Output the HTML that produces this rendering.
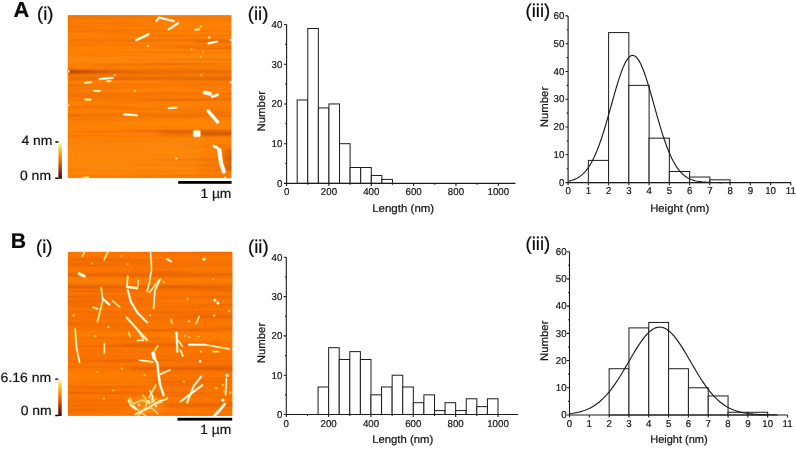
<!DOCTYPE html>
<html lang="en"><head><meta charset="utf-8"><title>AFM fibril length and height distributions</title>
<style>html,body{margin:0;padding:0;background:#fff}body{width:796px;height:449px;overflow:hidden}svg{display:block;will-change:transform}text{font-family:"Liberation Sans", sans-serif;text-rendering:geometricPrecision;stroke:#141414;stroke-width:0.22px;paint-order:stroke}</style>
</head><body>
<svg width="796" height="449" viewBox="0 0 796 449">
<defs>
<filter id="bl0" x="-5%" y="-5%" width="110%" height="110%"><feGaussianBlur stdDeviation="0.35"/></filter>
<filter id="bl1" x="-5%" y="-5%" width="110%" height="110%"><feGaussianBlur stdDeviation="4 1.1"/></filter>
<filter id="tx" x="0" y="0" width="1" height="1" color-interpolation-filters="sRGB"><feTurbulence type="fractalNoise" baseFrequency="0.007 0.27" numOctaves="2" seed="7" result="n"/><feColorMatrix in="n" type="matrix" values="0 0 0 0 0.72  0 0 0 0 0.26  0 0 0 0 0  2.6 0 0 0 -1.18" result="d"/><feColorMatrix in="n" type="matrix" values="0 0 0 0 1  0 0 0 0 0.6  0 0 0 0 0.1  0 2.0 0 0 -1.0" result="l"/><feMerge><feMergeNode in="d"/><feMergeNode in="l"/></feMerge></filter>
<filter id="tx2" x="0" y="0" width="1" height="1" color-interpolation-filters="sRGB"><feTurbulence type="fractalNoise" baseFrequency="0.007 0.27" numOctaves="2" seed="23" result="n"/><feColorMatrix in="n" type="matrix" values="0 0 0 0 0.72  0 0 0 0 0.24  0 0 0 0 0  2.6 0 0 0 -1.18" result="d"/><feColorMatrix in="n" type="matrix" values="0 0 0 0 1  0 0 0 0 0.56  0 0 0 0 0.08  0 2.0 0 0 -1.0" result="l"/><feMerge><feMergeNode in="d"/><feMergeNode in="l"/></feMerge></filter>
<filter id="bl2" x="-5%" y="-5%" width="110%" height="110%"><feGaussianBlur stdDeviation="0.7"/></filter>
<linearGradient id="cb" x1="0" y1="0" x2="0" y2="1"><stop offset="0" stop-color="#fffde0"/><stop offset="0.08" stop-color="#ffe98a"/><stop offset="0.2" stop-color="#ffc535"/><stop offset="0.38" stop-color="#f88d12"/><stop offset="0.58" stop-color="#d9600a"/><stop offset="0.78" stop-color="#8e2d08"/><stop offset="1" stop-color="#3a0a05"/></linearGradient>
<linearGradient id="fd" x1="0" y1="0" x2="1" y2="0"><stop offset="0" stop-color="#6e1c00" stop-opacity="0.95"/><stop offset="0.3" stop-color="#8a3000" stop-opacity="0.7"/><stop offset="0.6" stop-color="#b04000" stop-opacity="0.4"/><stop offset="1" stop-color="#c24a00" stop-opacity="0"/></linearGradient>
</defs>
<rect width="796" height="449" fill="#fff"/>
<g fill="#0a0a0a">
<text x="13.5" y="16.8" font-size="21.8" font-weight="bold">A</text>
<text x="10.7" y="248.2" font-size="21.2" font-weight="bold">B</text>
<g font-size="18.5">
<text x="37" y="19.9">(i)</text>
<text x="247.8" y="19.7">(ii)</text>
<text x="525.6" y="16.5">(iii)</text>
<text x="36.1" y="252.7">(i)</text>
<text x="248" y="252.6">(ii)</text>
<text x="525.6" y="249.6">(iii)</text>
</g></g>
<clipPath id="clipa"><rect x="67.6" y="15.1" width="164" height="163.2"/></clipPath>
<g clip-path="url(#clipa)">
<rect x="67.6" y="15.1" width="164" height="163.2" fill="#fe7f03"/>
<rect x="67.6" y="15.1" width="164" height="163.2" filter="url(#tx)" opacity="0.26"/>
<g filter="url(#bl1)">
<rect x="50" y="18.5" width="200" height="1.5" fill="#c24a00" opacity="0.25"/>
<rect x="50" y="39.2" width="200" height="1.6" fill="#c24a00" opacity="0.35"/>
<rect x="195" y="40.8" width="37" height="1.8" fill="#c24a00" opacity="0.45"/>
<rect x="60" y="70.6" width="84" height="2.3" fill="url(#fd)"/>
<rect x="50" y="68.5" width="200" height="11" fill="#c24a00" opacity="0.14"/>
<rect x="112" y="77.8" width="138" height="1.2" fill="#c24a00" opacity="0.35"/>
<rect x="60" y="84.6" width="24" height="1.2" fill="#c24a00" opacity="0.3"/>
<rect x="50" y="71" width="200" height="1.6" fill="#c24a00" opacity="0.35"/>
<rect x="50" y="77.5" width="200" height="1.2" fill="#c24a00" opacity="0.25"/>
<rect x="50" y="84.5" width="200" height="1.4" fill="#c24a00" opacity="0.3"/>
<rect x="50" y="93.5" width="200" height="1.6" fill="#c24a00" opacity="0.3"/>
<rect x="50" y="99" width="200" height="1.4" fill="#c24a00" opacity="0.3"/>
<rect x="50" y="108" width="200" height="1.2" fill="#c24a00" opacity="0.22"/>
<rect x="50" y="114.6" width="200" height="1.6" fill="#c24a00" opacity="0.4"/>
<rect x="160" y="130" width="90" height="5.5" fill="#c24a00" opacity="0.3"/>
<rect x="202" y="132.5" width="48" height="3" fill="#8a3000" opacity="0.3"/>
<rect x="180" y="146" width="52" height="1.5" fill="#c24a00" opacity="0.3"/>
<rect x="225" y="149" width="15" height="22" fill="#a03c00" opacity="0.42"/>
<rect x="50" y="55" width="200" height="8" fill="#ff9418" opacity="0.25"/>
<rect x="50" y="120" width="200" height="8" fill="#ff9418" opacity="0.2"/>
<rect x="40" y="140" width="160" height="34" fill="#ff9a1c" opacity="0.3"/>
</g>
<g filter="url(#bl2)" fill="none" stroke-linecap="round" stroke-linejoin="round" opacity="0.75">
<path d="M156.5 21.1L159.1 17.6L173.8 21.1" stroke="#ffb830" stroke-width="2.83"/>
<path d="M168.8 29.3L178.1 23.2" stroke="#ffb830" stroke-width="3.05"/>
<path d="M136.4 40.1L148.3 34.3" stroke="#ffb830" stroke-width="3.05"/>
<circle cx="147.8" cy="45.9" r="1.35" fill="#ffb830" stroke="none"/>
<circle cx="200.6" cy="26.5" r="1.35" fill="#ffb830" stroke="none"/>
<path d="M195.4 29.9L199 29.3" stroke="#ffb830" stroke-width="2.71"/>
<circle cx="209.2" cy="37.5" r="1.55" fill="#ffb830" stroke="none"/>
<path d="M208.3 43.3L217 41.6" stroke="#ffb830" stroke-width="2.83"/>
<circle cx="230.6" cy="40.1" r="1.45" fill="#ffb830" stroke="none"/>
<circle cx="191.5" cy="49.2" r="1.15" fill="#ffb830" stroke="none"/>
<circle cx="203.4" cy="51.5" r="1.15" fill="#ffb830" stroke="none"/>
<circle cx="200.6" cy="56.9" r="1.15" fill="#ffb830" stroke="none"/>
<circle cx="68.4" cy="71.4" r="1.55" fill="#ffb830" stroke="none"/>
<path d="M99.7 79L112.6 77.9" stroke="#ffb830" stroke-width="2.83"/>
<circle cx="114.8" cy="75.1" r="1.35" fill="#ffb830" stroke="none"/>
<path d="M107.2 81.2L110.5 81.2" stroke="#ffb830" stroke-width="2.59"/>
<path d="M85.2 82.9L91 82.2" stroke="#ffb830" stroke-width="2.71"/>
<path d="M94.3 90.9L99.7 90.9" stroke="#ffb830" stroke-width="2.71"/>
<circle cx="134.9" cy="90.9" r="1.35" fill="#ffb830" stroke="none"/>
<circle cx="201.2" cy="75.3" r="1.25" fill="#ffb830" stroke="none"/>
<path d="M204.6 92.6L210 93.8" stroke="#ffb830" stroke-width="4.55"/>
<path d="M212 96.6L217.6 94.8" stroke="#ffb830" stroke-width="3.4"/>
<circle cx="230.8" cy="82.2" r="1.45" fill="#ffb830" stroke="none"/>
<path d="M85.6 99.6L90.4 99.6" stroke="#ffb830" stroke-width="2.83"/>
<path d="M168.8 108.2L176.4 107.6" stroke="#ffb830" stroke-width="2.94"/>
<path d="M124.1 114.3L137 115.3" stroke="#ffb830" stroke-width="2.94"/>
<path d="M208.2 111L217.6 122" stroke="#ffb830" stroke-width="4.21"/>
<rect x="192.6" y="129.8" width="8.4" height="7.8" rx="2" fill="#ffb830" stroke="none"/>
<path d="M214 146.2L217.2 147.8" stroke="#ffb830" stroke-width="3.63"/>
<path d="M219.4 150L220 156L221.2 163.5L223.8 171.6" stroke="#ffb830" stroke-width="4.89"/>
<circle cx="176.4" cy="158.6" r="1.25" fill="#ffb830" stroke="none"/>
<path d="M82.4 178.6L87.8 177.6" stroke="#ffb830" stroke-width="3.17"/>
<circle cx="68.4" cy="105.4" r="1.25" fill="#ffb830" stroke="none"/>
<circle cx="225" cy="177.6" r="1.45" fill="#ffb830" stroke="none"/>
</g>
<g filter="url(#bl0)" fill="none" stroke-linecap="round" stroke-linejoin="round">
<path d="M156.5 21.1L159.1 17.6L173.8 21.1" stroke="#fff" stroke-width="1.72" opacity="1"/>
<path d="M168.8 29.3L178.1 23.2" stroke="#fff" stroke-width="1.95" opacity="1"/>
<path d="M136.4 40.1L148.3 34.3" stroke="#fff" stroke-width="1.95" opacity="1"/>
<circle cx="147.8" cy="45.9" r="0.9" fill="#ffe070" stroke="none" opacity="1"/>
<circle cx="200.6" cy="26.5" r="0.9" fill="#ffe070" stroke="none" opacity="1"/>
<path d="M195.4 29.9L199 29.3" stroke="#fff0b0" stroke-width="1.61" opacity="1"/>
<circle cx="209.2" cy="37.5" r="1.1" fill="#fff" stroke="none" opacity="1"/>
<path d="M208.3 43.3L217 41.6" stroke="#fff" stroke-width="1.72" opacity="1"/>
<circle cx="230.6" cy="40.1" r="1" fill="#fff" stroke="none" opacity="1"/>
<circle cx="191.5" cy="49.2" r="0.7" fill="#ffe070" stroke="none" opacity="1"/>
<circle cx="203.4" cy="51.5" r="0.7" fill="#ffe070" stroke="none" opacity="1"/>
<circle cx="200.6" cy="56.9" r="0.7" fill="#ffe070" stroke="none" opacity="1"/>
<circle cx="68.4" cy="71.4" r="1.1" fill="#ffe27a" stroke="none" opacity="1"/>
<path d="M99.7 79L112.6 77.9" stroke="#fff" stroke-width="1.72" opacity="1"/>
<circle cx="114.8" cy="75.1" r="0.9" fill="#ffe070" stroke="none" opacity="1"/>
<path d="M107.2 81.2L110.5 81.2" stroke="#fff0b0" stroke-width="1.49" opacity="1"/>
<path d="M85.2 82.9L91 82.2" stroke="#fff0b0" stroke-width="1.61" opacity="1"/>
<path d="M94.3 90.9L99.7 90.9" stroke="#fff0b0" stroke-width="1.61" opacity="1"/>
<circle cx="134.9" cy="90.9" r="0.9" fill="#ffe9a0" stroke="none" opacity="1"/>
<circle cx="201.2" cy="75.3" r="0.8" fill="#ffe070" stroke="none" opacity="1"/>
<path d="M204.6 92.6L210 93.8" stroke="#fff" stroke-width="3.45" opacity="1"/>
<path d="M212 96.6L217.6 94.8" stroke="#fff" stroke-width="2.3" opacity="1"/>
<circle cx="230.8" cy="82.2" r="1" fill="#fff" stroke="none" opacity="1"/>
<path d="M85.6 99.6L90.4 99.6" stroke="#fff0b0" stroke-width="1.72" opacity="1"/>
<path d="M168.8 108.2L176.4 107.6" stroke="#fff" stroke-width="1.84" opacity="1"/>
<path d="M124.1 114.3L137 115.3" stroke="#fff" stroke-width="1.84" opacity="1"/>
<path d="M208.2 111L217.6 122" stroke="#fff" stroke-width="3.1" opacity="1"/>
<rect x="193.4" y="130.6" width="6.8" height="6.2" rx="1.2" fill="#fff" stroke="none"/>
<path d="M214 146.2L217.2 147.8" stroke="#fff" stroke-width="2.53" opacity="1"/>
<path d="M219.4 150L220 156L221.2 163.5L223.8 171.6" stroke="#fff" stroke-width="3.79" opacity="1"/>
<circle cx="176.4" cy="158.6" r="0.8" fill="#ffe070" stroke="none" opacity="1"/>
<path d="M82.4 178.6L87.8 177.6" stroke="#fff" stroke-width="2.07" opacity="1"/>
<circle cx="68.4" cy="105.4" r="0.8" fill="#ffe070" stroke="none" opacity="1"/>
<circle cx="225" cy="177.6" r="1" fill="#ffe070" stroke="none" opacity="1"/>
</g></g>
<rect x="58.4" y="141.9" width="3.5" height="36.9" fill="url(#cb)"/>
<path d="M55.3 142h3.1M55.3 178.3h3.1" stroke="#000" stroke-width="1.4" fill="none"/>
<g font-size="13.4" fill="#141414">
<text x="21.4" y="145.1" textLength="31" lengthAdjust="spacingAndGlyphs">4 nm</text>
<text x="20" y="179.9" textLength="31" lengthAdjust="spacingAndGlyphs">0 nm</text>
<text x="200.4" y="197.8" textLength="31" lengthAdjust="spacingAndGlyphs">1 µm</text>
</g>
<rect x="178.2" y="181" width="53.4" height="2.8" fill="#000"/>
<clipPath id="clipb"><rect x="67.8" y="251.6" width="164.8" height="164.3"/></clipPath>
<g clip-path="url(#clipb)">
<rect x="67.8" y="251.6" width="164.8" height="164.3" fill="#fc7501"/>
<rect x="67.8" y="251.6" width="164.8" height="164.3" filter="url(#tx2)" opacity="0.26"/>
<g filter="url(#bl1)">
<rect x="50" y="262" width="200" height="1.4" fill="#c24a00" opacity="0.2"/>
<rect x="50" y="273.4" width="200" height="2.4" fill="#c24a00" opacity="0.45"/>
<rect x="50" y="286" width="200" height="2.2" fill="#c24a00" opacity="0.45"/>
<rect x="50" y="297.2" width="200" height="1.4" fill="#c24a00" opacity="0.25"/>
<rect x="50" y="306" width="200" height="1.2" fill="#c24a00" opacity="0.2"/>
<rect x="50" y="318" width="200" height="1.6" fill="#c24a00" opacity="0.25"/>
<rect x="50" y="328" width="200" height="1.4" fill="#c24a00" opacity="0.2"/>
<rect x="120" y="343" width="100" height="3" fill="#c24a00" opacity="0.3"/>
<rect x="50" y="356" width="200" height="1.4" fill="#c24a00" opacity="0.22"/>
<rect x="130" y="367" width="120" height="3.2" fill="#c24a00" opacity="0.3"/>
<ellipse cx="147" cy="405" rx="15" ry="9" fill="#ffb040" opacity="0.4"/>
<rect x="50" y="381" width="200" height="1.4" fill="#c24a00" opacity="0.22"/>
<rect x="50" y="392" width="200" height="1.6" fill="#c24a00" opacity="0.25"/>
<rect x="50" y="404" width="200" height="1.6" fill="#c24a00" opacity="0.25"/>
<rect x="50" y="278" width="200" height="6" fill="#ff9418" opacity="0.2"/>
<rect x="50" y="332" width="200" height="8" fill="#ff9418" opacity="0.2"/>
<rect x="40" y="372" width="110" height="14" fill="#ff9418" opacity="0.2"/>
</g>
<g filter="url(#bl2)" fill="none" stroke-linecap="round" stroke-linejoin="round" opacity="0.75">
<path d="M82.4 256.2L84.5 251.9" stroke="#ffb830" stroke-width="2.18"/>
<path d="M104 259.9L107.9 251.9" stroke="#ffb830" stroke-width="2.27"/>
<path d="M150.4 251.5L151.3 262L151.5 269.6L149.4 282.6L147.2 291.2" stroke="#ffb830" stroke-width="2.27"/>
<path d="M167.3 259.2L171 261.4" stroke="#ffb830" stroke-width="2.72"/>
<circle cx="204" cy="259.2" r="1.75" fill="#ffb830" stroke="none"/>
<path d="M79.2 273.6L84.2 276.2" stroke="#ffb830" stroke-width="3.62"/>
<path d="M127.7 276.1L127.1 286.9" stroke="#ffb830" stroke-width="2.36"/>
<path d="M127.1 287L136.4 288" stroke="#ffb830" stroke-width="3.08"/>
<path d="M127.7 290.1L131 302L137.5 312.8L147.2 322.5" stroke="#ffb830" stroke-width="2.81"/>
<path d="M137.5 289L138.5 280.4" stroke="#ffb830" stroke-width="2.09"/>
<path d="M149.4 292.3L159.1 280.4" stroke="#ffb830" stroke-width="2.36"/>
<path d="M153.7 308.5L154.8 291.2L160.2 279.3" stroke="#ffb830" stroke-width="2.36"/>
<circle cx="163.8" cy="281.9" r="1.25" fill="#ffb830" stroke="none"/>
<path d="M97.5 321.5L102.9 299.9L101.2 288" stroke="#ffb830" stroke-width="2.36"/>
<path d="M102.9 298.8L109.4 304.6" stroke="#ffb830" stroke-width="2.9"/>
<path d="M112.6 300.9L119.7 306.8" stroke="#ffb830" stroke-width="2.18"/>
<path d="M93.2 307.4L97.5 308.9" stroke="#ffb830" stroke-width="2.36"/>
<circle cx="73.7" cy="315.4" r="1.35" fill="#ffb830" stroke="none"/>
<path d="M126.7 317.6L142.9 335.5L147 340" stroke="#ffb830" stroke-width="2.72"/>
<circle cx="150" cy="315.4" r="1.25" fill="#ffb830" stroke="none"/>
<path d="M171 319.3L172 323.2" stroke="#ffb830" stroke-width="2.27"/>
<path d="M196.2 323.6L199 316.7" stroke="#ffb830" stroke-width="2.27"/>
<circle cx="214.8" cy="300.3" r="1.75" fill="#ffb830" stroke="none"/>
<circle cx="217.9" cy="303.1" r="1.75" fill="#ffb830" stroke="none"/>
<circle cx="229.3" cy="311.1" r="1.35" fill="#ffb830" stroke="none"/>
<circle cx="214.2" cy="315.4" r="1.35" fill="#ffb830" stroke="none"/>
<circle cx="187.6" cy="298.8" r="1.25" fill="#ffb830" stroke="none"/>
<circle cx="188.9" cy="321.5" r="1.25" fill="#ffb830" stroke="none"/>
<circle cx="213.1" cy="279.3" r="1.15" fill="#ffb830" stroke="none"/>
<circle cx="92.1" cy="263.6" r="1.15" fill="#ffb830" stroke="none"/>
<circle cx="127.7" cy="264.2" r="1.15" fill="#ffb830" stroke="none"/>
<circle cx="121.3" cy="256.2" r="1.15" fill="#ffb830" stroke="none"/>
<circle cx="108.3" cy="326.9" r="1.25" fill="#ffb830" stroke="none"/>
<circle cx="95.3" cy="335.8" r="1.35" fill="#ffb830" stroke="none"/>
<path d="M75.2 329L76.5 347.3L79.6 362.4" stroke="#ffb830" stroke-width="2.36"/>
<circle cx="176.4" cy="333.2" r="1.85" fill="#ffb830" stroke="none"/>
<path d="M104.4 343.4L104.4 353.3" stroke="#ffb830" stroke-width="2.27"/>
<path d="M137.5 330L143.5 338.6" stroke="#ffb830" stroke-width="2.36"/>
<path d="M137.5 340.4L143.5 340.4" stroke="#ffb830" stroke-width="2.18"/>
<path d="M128.8 332.6L129.9 336.5" stroke="#ffb830" stroke-width="2.09"/>
<path d="M176.6 334L177.4 351.6" stroke="#ffb830" stroke-width="2.9"/>
<path d="M178.5 340.8L182.4 346.2" stroke="#ffb830" stroke-width="2.27"/>
<path d="M180.7 350.5L182.8 355.9" stroke="#ffb830" stroke-width="2.36"/>
<path d="M188.9 344.7L204.5 344.7" stroke="#ffb830" stroke-width="2.9"/>
<path d="M204.5 344.7L229.3 349" stroke="#ffb830" stroke-width="2.36"/>
<path d="M213.1 351.6L218.5 351.6" stroke="#ffb830" stroke-width="2.27"/>
<circle cx="200.6" cy="351.6" r="1.25" fill="#ffb830" stroke="none"/>
<circle cx="200.1" cy="361.3" r="1.65" fill="#ffb830" stroke="none"/>
<circle cx="185" cy="336" r="1.15" fill="#ffb830" stroke="none"/>
<circle cx="189.3" cy="336.9" r="1.15" fill="#ffb830" stroke="none"/>
<circle cx="198.4" cy="336.5" r="1.15" fill="#ffb830" stroke="none"/>
<path d="M153.2 353.2L154.2 357.8" stroke="#ffb830" stroke-width="4.52"/>
<path d="M154.6 358.5L157.4 363.2L158.4 373.8L160.2 385L163.6 395.2" stroke="#ffb830" stroke-width="3.17"/>
<path d="M139.6 360.2L152.6 362" stroke="#ffb830" stroke-width="2.45"/>
<path d="M154.8 350.5L158 345.6" stroke="#ffb830" stroke-width="2.18"/>
<path d="M160.2 374.3L169.9 370" stroke="#ffb830" stroke-width="2.36"/>
<path d="M155.8 385.1L149.4 397" stroke="#ffb830" stroke-width="2.27"/>
<path d="M180.7 401.3L192 393L202.3 385.1" stroke="#ffb830" stroke-width="2.72"/>
<path d="M187.2 402.4L193.6 386.2L201.2 376.5" stroke="#ffb830" stroke-width="2.63"/>
<circle cx="227.1" cy="375.4" r="1.85" fill="#ffb830" stroke="none"/>
<path d="M226.5 378.6L225.6 394.8" stroke="#ffb830" stroke-width="2.36"/>
<circle cx="222.8" cy="385" r="1.25" fill="#ffb830" stroke="none"/>
<circle cx="224.3" cy="391.6" r="1.35" fill="#ffb830" stroke="none"/>
<circle cx="230.4" cy="392.6" r="1.25" fill="#ffb830" stroke="none"/>
<circle cx="222.8" cy="400.2" r="1.85" fill="#ffb830" stroke="none"/>
<path d="M224.6 404.2L219 411L214.2 416" stroke="#ffb830" stroke-width="3.44"/>
<path d="M135.3 414.3L148 408L159.1 401.3L166.6 399.1" stroke="#ffb830" stroke-width="2.54"/>
<path d="M128.5 400L131 405.5L136 409" stroke="#ffb830" stroke-width="2.72"/>
<path d="M150 391L153 397L152 402" stroke="#ffb830" stroke-width="2.45"/>
<circle cx="148.5" cy="401.5" r="1.65" fill="#ffb830" stroke="none"/>
<circle cx="139" cy="405" r="1.45" fill="#ffb830" stroke="none"/>
<circle cx="156" cy="406" r="1.35" fill="#ffb830" stroke="none"/>
<path d="M130 398L134 406L140 412L146 416" stroke="#ffb830" stroke-width="2.09"/>
<path d="M133 404L142 400L150 404L156 399" stroke="#ffb830" stroke-width="2"/>
<path d="M138 416L146 408L152 408L158 414" stroke="#ffb830" stroke-width="2"/>
<path d="M143 395L147 402L145 410" stroke="#ffb830" stroke-width="2"/>
<path d="M150 397L156 404L162 402" stroke="#ffb830" stroke-width="2"/>
<circle cx="97.5" cy="372.1" r="1.15" fill="#ffb830" stroke="none"/>
<circle cx="121.9" cy="368.5" r="1.15" fill="#ffb830" stroke="none"/>
<circle cx="113.3" cy="390.5" r="1.15" fill="#ffb830" stroke="none"/>
<circle cx="104" cy="398.7" r="1.15" fill="#ffb830" stroke="none"/>
<circle cx="144.4" cy="374.9" r="1.15" fill="#ffb830" stroke="none"/>
<circle cx="183.9" cy="381.4" r="1.15" fill="#ffb830" stroke="none"/>
<circle cx="216.3" cy="388.3" r="1.35" fill="#ffb830" stroke="none"/>
<circle cx="167.3" cy="398" r="1.35" fill="#ffb830" stroke="none"/>
</g>
<g filter="url(#bl0)" fill="none" stroke-linecap="round" stroke-linejoin="round">
<path d="M82.4 256.2L84.5 251.9" stroke="#fff0a8" stroke-width="1.08" opacity="1"/>
<path d="M104 259.9L107.9 251.9" stroke="#fff0a8" stroke-width="1.17" opacity="1"/>
<path d="M150.4 251.5L151.3 262L151.5 269.6L149.4 282.6L147.2 291.2" stroke="#fffbe6" stroke-width="1.17" opacity="1"/>
<path d="M167.3 259.2L171 261.4" stroke="#fff" stroke-width="1.62" opacity="1"/>
<circle cx="204" cy="259.2" r="1.3" fill="#fff" stroke="none" opacity="1"/>
<path d="M79.2 273.6L84.2 276.2" stroke="#fff" stroke-width="2.52" opacity="1"/>
<path d="M127.7 276.1L127.1 286.9" stroke="#fffbe6" stroke-width="1.26" opacity="1"/>
<path d="M127.1 287L136.4 288" stroke="#fff" stroke-width="1.98" opacity="1"/>
<path d="M127.7 290.1L131 302L137.5 312.8L147.2 322.5" stroke="#fff" stroke-width="1.71" opacity="1"/>
<path d="M137.5 289L138.5 280.4" stroke="#fff0a8" stroke-width="0.99" opacity="1"/>
<path d="M149.4 292.3L159.1 280.4" stroke="#fffbe6" stroke-width="1.26" opacity="1"/>
<path d="M153.7 308.5L154.8 291.2L160.2 279.3" stroke="#fffbe6" stroke-width="1.26" opacity="1"/>
<circle cx="163.8" cy="281.9" r="0.8" fill="#ffe070" stroke="none" opacity="1"/>
<path d="M97.5 321.5L102.9 299.9L101.2 288" stroke="#fff0a8" stroke-width="1.26" opacity="1"/>
<path d="M102.9 298.8L109.4 304.6" stroke="#fff" stroke-width="1.8" opacity="1"/>
<path d="M112.6 300.9L119.7 306.8" stroke="#fff0a8" stroke-width="1.08" opacity="1"/>
<path d="M93.2 307.4L97.5 308.9" stroke="#fff" stroke-width="1.26" opacity="1"/>
<circle cx="73.7" cy="315.4" r="0.9" fill="#ffe070" stroke="none" opacity="1"/>
<path d="M126.7 317.6L142.9 335.5L147 340" stroke="#fffbe6" stroke-width="1.62" opacity="1"/>
<circle cx="150" cy="315.4" r="0.8" fill="#ffe070" stroke="none" opacity="1"/>
<path d="M171 319.3L172 323.2" stroke="#fff0a8" stroke-width="1.17" opacity="1"/>
<path d="M196.2 323.6L199 316.7" stroke="#fff0a8" stroke-width="1.17" opacity="1"/>
<circle cx="214.8" cy="300.3" r="1.3" fill="#fff" stroke="none" opacity="1"/>
<circle cx="217.9" cy="303.1" r="1.3" fill="#fff" stroke="none" opacity="1"/>
<circle cx="229.3" cy="311.1" r="0.9" fill="#ffe070" stroke="none" opacity="1"/>
<circle cx="214.2" cy="315.4" r="0.9" fill="#ffe070" stroke="none" opacity="1"/>
<circle cx="187.6" cy="298.8" r="0.8" fill="#ffe070" stroke="none" opacity="1"/>
<circle cx="188.9" cy="321.5" r="0.8" fill="#ffe070" stroke="none" opacity="1"/>
<circle cx="213.1" cy="279.3" r="0.7" fill="#ffe070" stroke="none" opacity="1"/>
<circle cx="92.1" cy="263.6" r="0.7" fill="#ffe070" stroke="none" opacity="1"/>
<circle cx="127.7" cy="264.2" r="0.7" fill="#ffe070" stroke="none" opacity="1"/>
<circle cx="121.3" cy="256.2" r="0.7" fill="#ffe070" stroke="none" opacity="1"/>
<circle cx="108.3" cy="326.9" r="0.8" fill="#ffe070" stroke="none" opacity="1"/>
<circle cx="95.3" cy="335.8" r="0.9" fill="#ffe070" stroke="none" opacity="1"/>
<path d="M75.2 329L76.5 347.3L79.6 362.4" stroke="#fffbe6" stroke-width="1.26" opacity="1"/>
<circle cx="176.4" cy="333.2" r="1.4" fill="#fff" stroke="none" opacity="1"/>
<path d="M104.4 343.4L104.4 353.3" stroke="#fff0a8" stroke-width="1.17" opacity="1"/>
<path d="M137.5 330L143.5 338.6" stroke="#fffbe6" stroke-width="1.26" opacity="1"/>
<path d="M137.5 340.4L143.5 340.4" stroke="#fff0a8" stroke-width="1.08" opacity="1"/>
<path d="M128.8 332.6L129.9 336.5" stroke="#fff0a8" stroke-width="0.99" opacity="1"/>
<path d="M176.6 334L177.4 351.6" stroke="#fff" stroke-width="1.8" opacity="1"/>
<path d="M178.5 340.8L182.4 346.2" stroke="#fffbe6" stroke-width="1.17" opacity="1"/>
<path d="M180.7 350.5L182.8 355.9" stroke="#fff" stroke-width="1.26" opacity="1"/>
<path d="M188.9 344.7L204.5 344.7" stroke="#fff" stroke-width="1.8" opacity="1"/>
<path d="M204.5 344.7L229.3 349" stroke="#fffbe6" stroke-width="1.26" opacity="1"/>
<path d="M213.1 351.6L218.5 351.6" stroke="#fff0a8" stroke-width="1.17" opacity="1"/>
<circle cx="200.6" cy="351.6" r="0.8" fill="#ffe070" stroke="none" opacity="1"/>
<circle cx="200.1" cy="361.3" r="1.2" fill="#fff" stroke="none" opacity="1"/>
<circle cx="185" cy="336" r="0.7" fill="#ffe070" stroke="none" opacity="1"/>
<circle cx="189.3" cy="336.9" r="0.7" fill="#ffe070" stroke="none" opacity="1"/>
<circle cx="198.4" cy="336.5" r="0.7" fill="#ffe070" stroke="none" opacity="1"/>
<path d="M153.2 353.2L154.2 357.8" stroke="#fff" stroke-width="3.42" opacity="1"/>
<path d="M154.6 358.5L157.4 363.2L158.4 373.8L160.2 385L163.6 395.2" stroke="#fff" stroke-width="2.07" opacity="1"/>
<path d="M139.6 360.2L152.6 362" stroke="#fffbe6" stroke-width="1.35" opacity="1"/>
<path d="M154.8 350.5L158 345.6" stroke="#fff0a8" stroke-width="1.08" opacity="1"/>
<path d="M160.2 374.3L169.9 370" stroke="#fffbe6" stroke-width="1.26" opacity="1"/>
<path d="M155.8 385.1L149.4 397" stroke="#fff0a8" stroke-width="1.17" opacity="1"/>
<path d="M180.7 401.3L192 393L202.3 385.1" stroke="#fff" stroke-width="1.62" opacity="1"/>
<path d="M187.2 402.4L193.6 386.2L201.2 376.5" stroke="#fff" stroke-width="1.53" opacity="1"/>
<circle cx="227.1" cy="375.4" r="1.4" fill="#fff" stroke="none" opacity="1"/>
<path d="M226.5 378.6L225.6 394.8" stroke="#fffbe6" stroke-width="1.26" opacity="1"/>
<circle cx="222.8" cy="385" r="0.8" fill="#ffe070" stroke="none" opacity="1"/>
<circle cx="224.3" cy="391.6" r="0.9" fill="#ffe070" stroke="none" opacity="1"/>
<circle cx="230.4" cy="392.6" r="0.8" fill="#ffe070" stroke="none" opacity="1"/>
<circle cx="222.8" cy="400.2" r="1.4" fill="#fff" stroke="none" opacity="1"/>
<path d="M224.6 404.2L219 411L214.2 416" stroke="#fff" stroke-width="2.34" opacity="1"/>
<path d="M135.3 414.3L148 408L159.1 401.3L166.6 399.1" stroke="#fffbe6" stroke-width="1.44" opacity="1"/>
<path d="M128.5 400L131 405.5L136 409" stroke="#fffbe6" stroke-width="1.62" opacity="1"/>
<path d="M150 391L153 397L152 402" stroke="#fffbe6" stroke-width="1.35" opacity="1"/>
<circle cx="148.5" cy="401.5" r="1.2" fill="#fff" stroke="none" opacity="1"/>
<circle cx="139" cy="405" r="1" fill="#fff" stroke="none" opacity="1"/>
<circle cx="156" cy="406" r="0.9" fill="#fff" stroke="none" opacity="1"/>
<path d="M130 398L134 406L140 412L146 416" stroke="#fff0a8" stroke-width="0.99" opacity="0.8"/>
<path d="M133 404L142 400L150 404L156 399" stroke="#fff0a8" stroke-width="0.9" opacity="0.8"/>
<path d="M138 416L146 408L152 408L158 414" stroke="#fff0a8" stroke-width="0.9" opacity="0.8"/>
<path d="M143 395L147 402L145 410" stroke="#fff0a8" stroke-width="0.9" opacity="0.8"/>
<path d="M150 397L156 404L162 402" stroke="#fff0a8" stroke-width="0.9" opacity="0.7"/>
<circle cx="97.5" cy="372.1" r="0.7" fill="#ffe070" stroke="none" opacity="1"/>
<circle cx="121.9" cy="368.5" r="0.7" fill="#ffe070" stroke="none" opacity="1"/>
<circle cx="113.3" cy="390.5" r="0.7" fill="#ffe070" stroke="none" opacity="1"/>
<circle cx="104" cy="398.7" r="0.7" fill="#ffe070" stroke="none" opacity="1"/>
<circle cx="144.4" cy="374.9" r="0.7" fill="#ffe070" stroke="none" opacity="1"/>
<circle cx="183.9" cy="381.4" r="0.7" fill="#ffe070" stroke="none" opacity="1"/>
<circle cx="216.3" cy="388.3" r="0.9" fill="#ffe070" stroke="none" opacity="1"/>
<circle cx="167.3" cy="398" r="0.9" fill="#ffe070" stroke="none" opacity="1"/>
</g></g>
<rect x="58.2" y="379" width="3.5" height="37" fill="url(#cb)"/>
<path d="M55.2 379.1h3.1M55.2 415.5h3.1" stroke="#000" stroke-width="1.4" fill="none"/>
<g font-size="13.4" fill="#141414">
<text x="0.6" y="382.2" textLength="50.6" lengthAdjust="spacingAndGlyphs">6.16 nm</text>
<text x="20.7" y="415.4" textLength="31" lengthAdjust="spacingAndGlyphs">0 nm</text>
<text x="200.2" y="434.4" textLength="31" lengthAdjust="spacingAndGlyphs">1 µm</text>
</g>
<rect x="177.4" y="417.8" width="54.8" height="2.8" fill="#000"/>
<g fill="#fff" stroke="#1c1c1c" stroke-width="1"><rect x="297.19" y="99.98" width="10.59" height="83.42"/><rect x="307.77" y="28.47" width="10.58" height="154.93"/><rect x="318.36" y="107.92" width="10.59" height="75.48"/><rect x="328.94" y="103.95" width="10.58" height="79.45"/><rect x="339.53" y="143.68" width="10.58" height="39.72"/><rect x="350.11" y="167.51" width="10.59" height="15.89"/><rect x="360.7" y="167.51" width="10.58" height="15.89"/><rect x="371.28" y="175.46" width="10.58" height="7.94"/><rect x="381.87" y="179.43" width="10.59" height="3.97"/></g>
<path d="M286.6 24.5V183.4H515.5M286.6 183.4h-2.6M286.6 143.68h-2.6M286.6 103.95h-2.6M286.6 64.22h-2.6M286.6 24.5h-2.6M286.6 163.54h-1.4M286.6 123.81h-1.4M286.6 84.09h-1.4M286.6 44.36h-1.4M286.6 183.4v2.6M328.94 183.4v2.6M371.28 183.4v2.6M413.62 183.4v2.6M455.96 183.4v2.6M498.3 183.4v2.6M307.77 183.4v1.4M350.11 183.4v1.4M392.45 183.4v1.4M434.79 183.4v1.4M477.13 183.4v1.4" fill="none" stroke="#1c1c1c" stroke-width="1.1"/>
<g font-size="10" fill="#141414"><text transform="translate(282.4 186.7) scale(0.97 1)" text-anchor="end">0</text><text transform="translate(282.4 146.98) scale(0.97 1)" text-anchor="end">10</text><text transform="translate(282.4 107.25) scale(0.97 1)" text-anchor="end">20</text><text transform="translate(282.4 67.52) scale(0.97 1)" text-anchor="end">30</text><text transform="translate(282.4 27.8) scale(0.97 1)" text-anchor="end">40</text><text transform="translate(286.6 195.15) scale(0.97 1)" text-anchor="middle">0</text><text transform="translate(328.94 195.15) scale(0.97 1)" text-anchor="middle">200</text><text transform="translate(371.28 195.15) scale(0.97 1)" text-anchor="middle">400</text><text transform="translate(413.62 195.15) scale(0.97 1)" text-anchor="middle">600</text><text transform="translate(455.96 195.15) scale(0.97 1)" text-anchor="middle">800</text><text transform="translate(498.3 195.15) scale(0.97 1)" text-anchor="middle">1000</text></g>
<text x="372.2" y="212.1" font-size="11" textLength="62" lengthAdjust="spacingAndGlyphs" fill="#141414">Length (nm)</text>
<text transform="translate(265.1 111.2) rotate(-90)" text-anchor="middle" font-size="11" textLength="40.5" lengthAdjust="spacingAndGlyphs" fill="#141414">Number</text>
<g fill="#fff" stroke="#1c1c1c" stroke-width="1"><rect x="588.35" y="160.38" width="20.25" height="22.22"/><rect x="608.6" y="32.59" width="20.25" height="150.01"/><rect x="628.85" y="85.37" width="20.25" height="97.23"/><rect x="649.1" y="138.15" width="20.25" height="44.45"/><rect x="669.35" y="171.49" width="20.25" height="11.11"/><rect x="689.6" y="177.04" width="20.25" height="5.56"/><rect x="709.85" y="179.82" width="20.25" height="2.78"/></g>
<path d="M568.1 15.92V182.6H790.9M568.1 182.6h-2.6M568.1 154.82h-2.6M568.1 127.04h-2.6M568.1 99.26h-2.6M568.1 71.48h-2.6M568.1 43.7h-2.6M568.1 15.92h-2.6M568.1 168.71h-1.4M568.1 140.93h-1.4M568.1 113.15h-1.4M568.1 85.37h-1.4M568.1 57.59h-1.4M568.1 29.81h-1.4M568.1 182.6v2.6M588.35 182.6v2.6M608.6 182.6v2.6M628.85 182.6v2.6M649.1 182.6v2.6M669.35 182.6v2.6M689.6 182.6v2.6M709.85 182.6v2.6M730.1 182.6v2.6M750.35 182.6v2.6M770.6 182.6v2.6M790.85 182.6v2.6" fill="none" stroke="#1c1c1c" stroke-width="1.1"/>
<path d="M568.1 181.23L569.38 180.96L570.67 180.65L571.95 180.28L573.23 179.86L574.51 179.37L575.8 178.81L577.08 178.17L578.36 177.44L579.64 176.6L580.93 175.66L582.21 174.6L583.49 173.41L584.77 172.08L586.06 170.6L587.34 168.96L588.62 167.15L589.9 165.16L591.19 162.99L592.47 160.63L593.75 158.07L595.03 155.31L596.32 152.35L597.6 149.18L598.88 145.82L600.16 142.26L601.45 138.52L602.73 134.6L604.01 130.51L605.29 126.28L606.58 121.93L607.86 117.47L609.14 112.93L610.42 108.34L611.71 103.73L612.99 99.13L614.27 94.58L615.55 90.12L616.84 85.77L618.12 81.58L619.4 77.58L620.68 73.82L621.97 70.32L623.25 67.12L624.53 64.25L625.81 61.75L627.1 59.63L628.38 57.92L629.66 56.64L630.94 55.79L632.23 55.4L633.51 55.46L634.79 55.97L636.07 56.93L637.36 58.33L638.64 60.15L639.92 62.37L641.2 64.97L642.49 67.93L643.77 71.21L645.05 74.78L646.33 78.61L647.62 82.66L648.9 86.9L650.18 91.28L651.46 95.78L652.75 100.34L654.03 104.94L655.31 109.55L656.59 114.13L657.88 118.65L659.16 123.08L660.44 127.41L661.72 131.6L663 135.64L664.29 139.52L665.57 143.22L666.85 146.72L668.13 150.04L669.42 153.15L670.7 156.06L671.98 158.76L673.26 161.27L674.55 163.58L675.83 165.7L677.11 167.64L678.39 169.4L679.68 171L680.96 172.44L682.24 173.73L683.52 174.89L684.81 175.92L686.09 176.83L687.37 177.64L688.65 178.35L689.94 178.97L691.22 179.51L692.5 179.98L693.78 180.38L695.07 180.73L696.35 181.03L697.63 181.29L698.91 181.51L700.2 181.69L701.48 181.85L702.76 181.98L704.05 182.09L705.33 182.18L706.61 182.26L707.89 182.32L709.17 182.38L710.46 182.42L711.74 182.46L713.02 182.48L714.31 182.51L715.59 182.53L716.87 182.54L718.15 182.55L719.43 182.56L720.72 182.57L722 182.58" fill="none" stroke="#1c1c1c" stroke-width="1.15"/>
<g font-size="10" fill="#141414"><text transform="translate(564.3 185.7) scale(0.97 1)" text-anchor="end">0</text><text transform="translate(564.3 157.92) scale(0.97 1)" text-anchor="end">10</text><text transform="translate(564.3 130.14) scale(0.97 1)" text-anchor="end">20</text><text transform="translate(564.3 102.36) scale(0.97 1)" text-anchor="end">30</text><text transform="translate(564.3 74.58) scale(0.97 1)" text-anchor="end">40</text><text transform="translate(564.3 46.8) scale(0.97 1)" text-anchor="end">50</text><text transform="translate(564.3 19.02) scale(0.97 1)" text-anchor="end">60</text><text transform="translate(568.1 194.4) scale(0.97 1)" text-anchor="middle">0</text><text transform="translate(588.35 194.4) scale(0.97 1)" text-anchor="middle">1</text><text transform="translate(608.6 194.4) scale(0.97 1)" text-anchor="middle">2</text><text transform="translate(628.85 194.4) scale(0.97 1)" text-anchor="middle">3</text><text transform="translate(649.1 194.4) scale(0.97 1)" text-anchor="middle">4</text><text transform="translate(669.35 194.4) scale(0.97 1)" text-anchor="middle">5</text><text transform="translate(689.6 194.4) scale(0.97 1)" text-anchor="middle">6</text><text transform="translate(709.85 194.4) scale(0.97 1)" text-anchor="middle">7</text><text transform="translate(730.1 194.4) scale(0.97 1)" text-anchor="middle">8</text><text transform="translate(750.35 194.4) scale(0.97 1)" text-anchor="middle">9</text><text transform="translate(770.6 194.4) scale(0.97 1)" text-anchor="middle">10</text><text transform="translate(790.85 194.4) scale(0.97 1)" text-anchor="middle">11</text></g>
<text x="650.2" y="212.1" font-size="11" textLength="59" lengthAdjust="spacingAndGlyphs" fill="#141414">Height (nm)</text>
<text transform="translate(547.6 107) rotate(-90)" text-anchor="middle" font-size="11" textLength="40.5" lengthAdjust="spacingAndGlyphs" fill="#141414">Number</text>
<g fill="#fff" stroke="#1c1c1c" stroke-width="1"><rect x="318.06" y="386.99" width="10.58" height="27.51"/><rect x="328.64" y="347.69" width="10.59" height="66.81"/><rect x="339.23" y="359.48" width="10.58" height="55.02"/><rect x="349.81" y="351.62" width="10.58" height="62.88"/><rect x="360.39" y="359.48" width="10.59" height="55.02"/><rect x="370.98" y="394.85" width="10.58" height="19.65"/><rect x="381.56" y="386.99" width="10.58" height="27.51"/><rect x="392.15" y="375.2" width="10.59" height="39.3"/><rect x="402.74" y="386.99" width="10.58" height="27.51"/><rect x="413.32" y="402.71" width="10.58" height="11.79"/><rect x="423.9" y="394.85" width="10.59" height="19.65"/><rect x="434.49" y="410.57" width="10.59" height="3.93"/><rect x="445.08" y="402.71" width="10.58" height="11.79"/><rect x="455.66" y="410.57" width="10.58" height="3.93"/><rect x="466.25" y="398.78" width="10.59" height="15.72"/><rect x="476.83" y="406.64" width="10.58" height="7.86"/><rect x="487.42" y="398.78" width="10.58" height="15.72"/></g>
<path d="M286.3 257.3V414.5H518M286.3 414.5h-2.6M286.3 375.2h-2.6M286.3 335.9h-2.6M286.3 296.6h-2.6M286.3 257.3h-2.6M286.3 394.85h-1.4M286.3 355.55h-1.4M286.3 316.25h-1.4M286.3 276.95h-1.4M286.3 414.5v2.6M328.64 414.5v2.6M370.98 414.5v2.6M413.32 414.5v2.6M455.66 414.5v2.6M498 414.5v2.6M307.47 414.5v1.4M349.81 414.5v1.4M392.15 414.5v1.4M434.49 414.5v1.4M476.83 414.5v1.4" fill="none" stroke="#1c1c1c" stroke-width="1.1"/>
<g font-size="10" fill="#141414"><text transform="translate(282.3 417.8) scale(0.97 1)" text-anchor="end">0</text><text transform="translate(282.3 378.5) scale(0.97 1)" text-anchor="end">10</text><text transform="translate(282.3 339.2) scale(0.97 1)" text-anchor="end">20</text><text transform="translate(282.3 299.9) scale(0.97 1)" text-anchor="end">30</text><text transform="translate(282.3 260.6) scale(0.97 1)" text-anchor="end">40</text><text transform="translate(286.3 426.6) scale(0.97 1)" text-anchor="middle">0</text><text transform="translate(328.64 426.6) scale(0.97 1)" text-anchor="middle">200</text><text transform="translate(370.98 426.6) scale(0.97 1)" text-anchor="middle">400</text><text transform="translate(413.32 426.6) scale(0.97 1)" text-anchor="middle">600</text><text transform="translate(455.66 426.6) scale(0.97 1)" text-anchor="middle">800</text><text transform="translate(498 426.6) scale(0.97 1)" text-anchor="middle">1000</text></g>
<text x="372.2" y="443.2" font-size="11" textLength="61" lengthAdjust="spacingAndGlyphs" fill="#141414">Length (nm)</text>
<text transform="translate(265.1 343) rotate(-90)" text-anchor="middle" font-size="11" textLength="40.5" lengthAdjust="spacingAndGlyphs" fill="#141414">Number</text>
<g fill="#fff" stroke="#1c1c1c" stroke-width="1"><rect x="609.14" y="368.73" width="19.82" height="46.27"/><rect x="628.96" y="327.9" width="19.82" height="87.1"/><rect x="648.78" y="322.45" width="19.82" height="92.55"/><rect x="668.6" y="368.73" width="19.82" height="46.27"/><rect x="688.42" y="387.78" width="19.82" height="27.22"/><rect x="708.24" y="395.95" width="19.82" height="19.05"/><rect x="728.06" y="412.28" width="19.82" height="2.72"/><rect x="747.88" y="412.28" width="19.82" height="2.72"/></g>
<path d="M569.5 251.68V415H787.5M569.5 415h-2.6M569.5 387.78h-2.6M569.5 360.56h-2.6M569.5 333.34h-2.6M569.5 306.12h-2.6M569.5 278.9h-2.6M569.5 251.68h-2.6M569.5 401.39h-1.4M569.5 374.17h-1.4M569.5 346.95h-1.4M569.5 319.73h-1.4M569.5 292.51h-1.4M569.5 265.29h-1.4M569.5 415v2.6M589.32 415v2.6M609.14 415v2.6M628.96 415v2.6M648.78 415v2.6M668.6 415v2.6M688.42 415v2.6M708.24 415v2.6M728.06 415v2.6M747.88 415v2.6M767.7 415v2.6M787.52 415v2.6" fill="none" stroke="#1c1c1c" stroke-width="1.1"/>
<path d="M569.5 413.75L571.23 413.53L572.97 413.28L574.7 412.99L576.44 412.66L578.17 412.28L579.91 411.85L581.64 411.36L583.37 410.82L585.11 410.2L586.84 409.52L588.58 408.75L590.31 407.9L592.05 406.96L593.78 405.93L595.51 404.79L597.25 403.55L598.98 402.2L600.72 400.73L602.45 399.15L604.18 397.44L605.92 395.61L607.65 393.66L609.39 391.58L611.12 389.38L612.86 387.07L614.59 384.64L616.32 382.11L618.06 379.47L619.79 376.74L621.53 373.94L623.26 371.06L625 368.14L626.73 365.17L628.46 362.19L630.2 359.2L631.93 356.22L633.67 353.29L635.4 350.41L637.14 347.6L638.87 344.9L640.6 342.32L642.34 339.88L644.07 337.6L645.81 335.5L647.54 333.6L649.28 331.92L651.01 330.47L652.74 329.26L654.48 328.32L656.21 327.63L657.95 327.22L659.68 327.08L661.42 327.22L663.15 327.63L664.88 328.32L666.62 329.26L668.35 330.47L670.09 331.92L671.82 333.6L673.56 335.5L675.29 337.6L677.02 339.88L678.76 342.32L680.49 344.9L682.23 347.6L683.96 350.41L685.69 353.29L687.43 356.22L689.16 359.2L690.9 362.19L692.63 365.17L694.37 368.14L696.1 371.06L697.83 373.94L699.57 376.74L701.3 379.47L703.04 382.11L704.77 384.64L706.51 387.07L708.24 389.38L709.97 391.58L711.71 393.66L713.44 395.61L715.18 397.44L716.91 399.15L718.65 400.73L720.38 402.2L722.11 403.55L723.85 404.79L725.58 405.93L727.32 406.96L729.05 407.9L730.79 408.75L732.52 409.52L734.25 410.2L735.99 410.82L737.72 411.36L739.46 411.85L741.19 412.28L742.92 412.66L744.66 412.99L746.39 413.28L748.13 413.53L749.86 413.75L751.6 413.94L753.33 414.1L755.06 414.25L756.8 414.37L758.53 414.47L760.27 414.56L762 414.63L763.74 414.69L765.47 414.75L767.2 414.79L768.94 414.83L770.67 414.86L772.41 414.89L774.14 414.91L775.88 414.92L777.61 414.94" fill="none" stroke="#1c1c1c" stroke-width="1.15"/>
<g font-size="10" fill="#141414"><text transform="translate(566.6 418.3) scale(0.97 1)" text-anchor="end">0</text><text transform="translate(566.6 391.08) scale(0.97 1)" text-anchor="end">10</text><text transform="translate(566.6 363.86) scale(0.97 1)" text-anchor="end">20</text><text transform="translate(566.6 336.64) scale(0.97 1)" text-anchor="end">30</text><text transform="translate(566.6 309.42) scale(0.97 1)" text-anchor="end">40</text><text transform="translate(566.6 282.2) scale(0.97 1)" text-anchor="end">50</text><text transform="translate(566.6 254.98) scale(0.97 1)" text-anchor="end">60</text><text transform="translate(569.5 426.6) scale(0.97 1)" text-anchor="middle">0</text><text transform="translate(589.32 426.6) scale(0.97 1)" text-anchor="middle">1</text><text transform="translate(609.14 426.6) scale(0.97 1)" text-anchor="middle">2</text><text transform="translate(628.96 426.6) scale(0.97 1)" text-anchor="middle">3</text><text transform="translate(648.78 426.6) scale(0.97 1)" text-anchor="middle">4</text><text transform="translate(668.6 426.6) scale(0.97 1)" text-anchor="middle">5</text><text transform="translate(688.42 426.6) scale(0.97 1)" text-anchor="middle">6</text><text transform="translate(708.24 426.6) scale(0.97 1)" text-anchor="middle">7</text><text transform="translate(728.06 426.6) scale(0.97 1)" text-anchor="middle">8</text><text transform="translate(747.88 426.6) scale(0.97 1)" text-anchor="middle">9</text><text transform="translate(767.7 426.6) scale(0.97 1)" text-anchor="middle">10</text><text transform="translate(787.52 426.6) scale(0.97 1)" text-anchor="middle">11</text></g>
<text x="650.2" y="443.3" font-size="11" textLength="57.5" lengthAdjust="spacingAndGlyphs" fill="#141414">Height (nm)</text>
<text transform="translate(548.3 340.8) rotate(-90)" text-anchor="middle" font-size="11" textLength="40.5" lengthAdjust="spacingAndGlyphs" fill="#141414">Number</text>
</svg></body></html>
